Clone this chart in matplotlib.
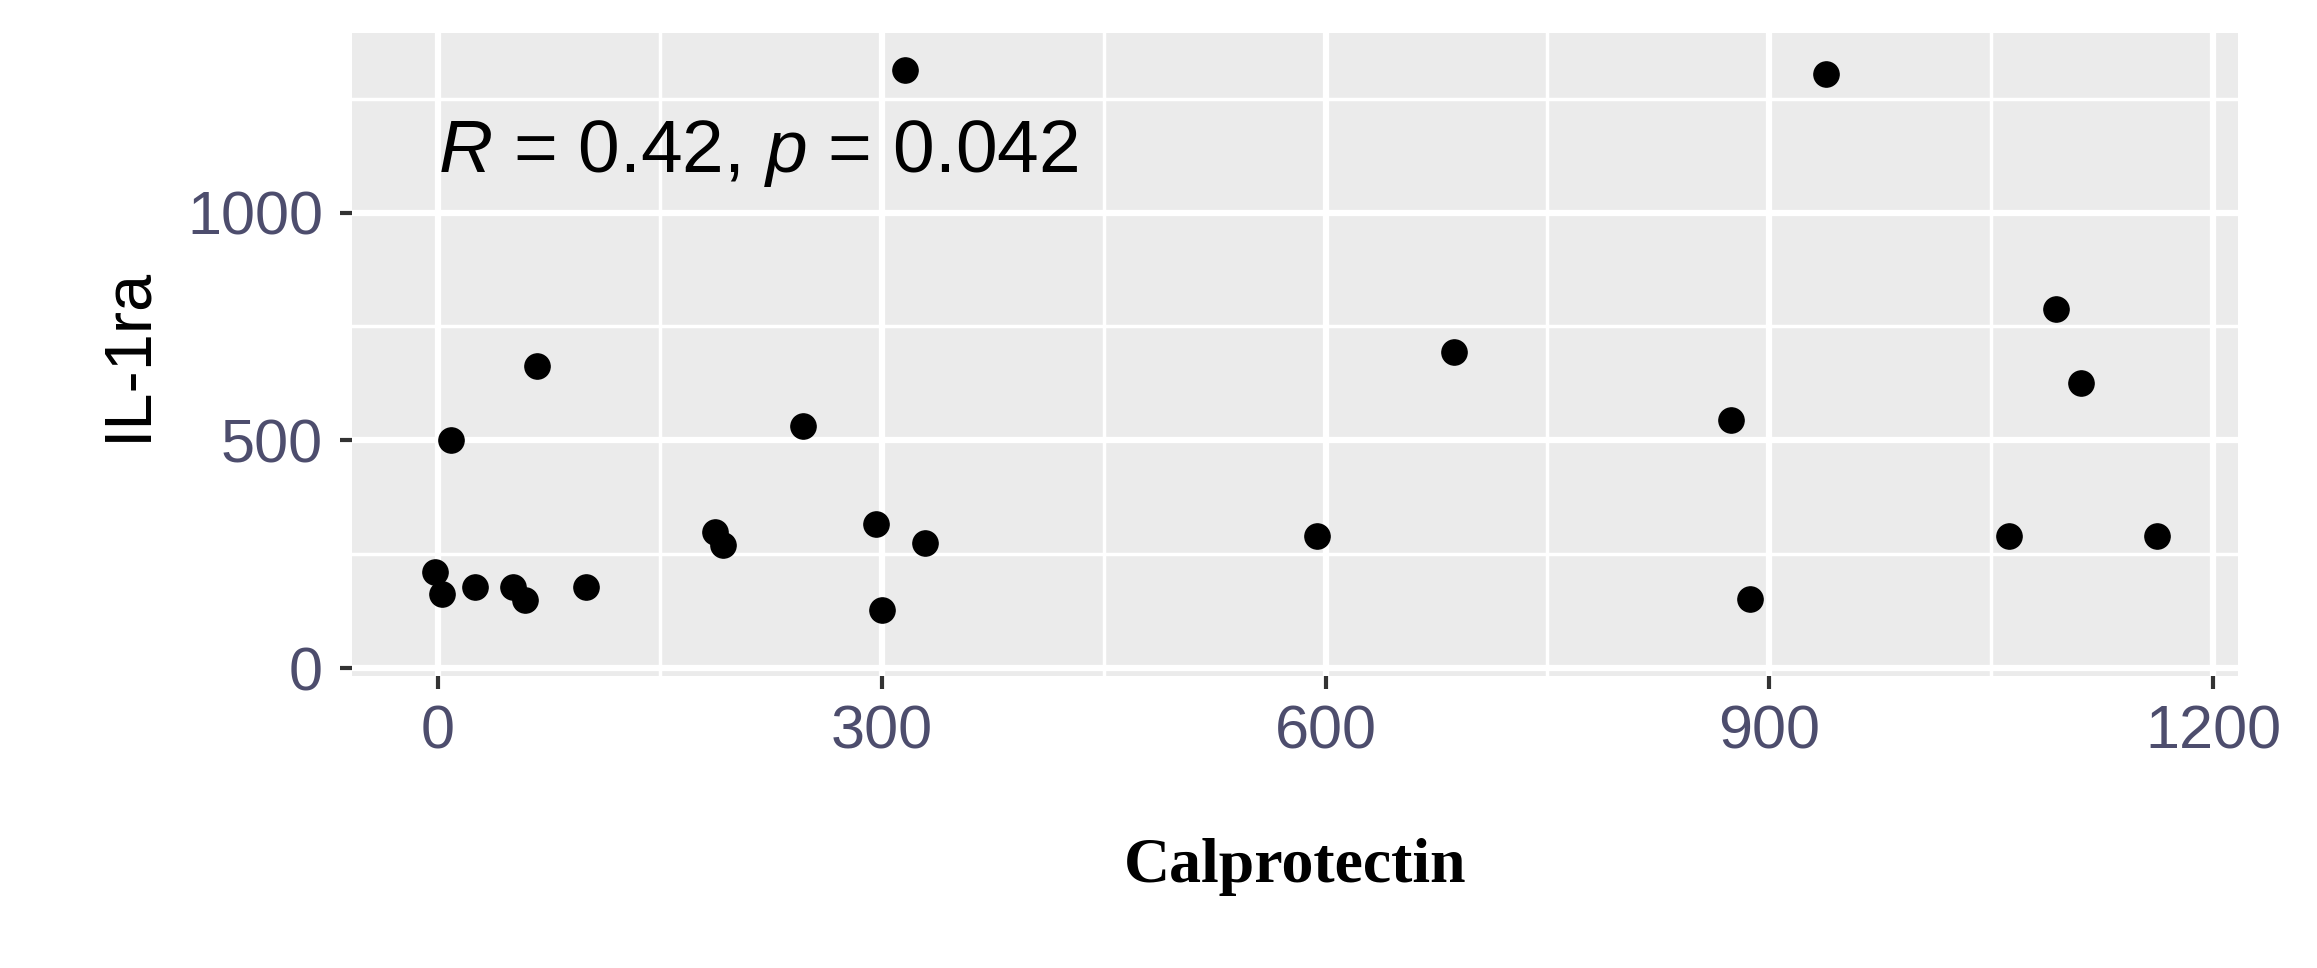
import matplotlib
matplotlib.use("Agg")
import matplotlib.pyplot as plt

calprotectin = [-2, 3, 9, 25, 51, 59, 67, 100, 187, 193, 247, 296, 300, 316, 329, 594, 687, 874, 887, 938, 1062, 1094, 1111, 1162]
il1ra = [212, 163, 502, 179, 179, 150, 664, 179, 300, 270, 531, 316, 127, 1313, 274, 290, 694, 544, 153, 1303, 290, 788, 625, 290]
xticks = [0, 300, 600, 900, 1200]
yticks = [0, 500, 1000]

plt.rcParams['font.family'] = ['Liberation Sans', 'DejaVu Sans']
plt.rcParams['mathtext.fontset'] = 'custom'
plt.rcParams['mathtext.it'] = 'Liberation Sans:italic'
plt.rcParams['mathtext.rm'] = 'Liberation Sans'

fig = plt.figure(figsize=(23.17, 9.68), dpi=100)
ax = fig.add_axes([0.152, 0.302, 0.814, 0.664])
ax.set_facecolor("#EBEBEB")
ax.set_xlim(-58, 1217)
ax.set_ylim(-16, 1394)
ax.set_xticks(xticks)
ax.set_yticks(yticks)
ax.set_xticks([150, 450, 750, 1050], minor=True)
ax.set_yticks([250, 750, 1250], minor=True)
ax.grid(True, which="major", color="white", linewidth=4.5)
ax.grid(True, which="minor", color="white", linewidth=2.5)
ax.set_axisbelow(True)
for s in ax.spines.values():
    s.set_visible(False)
ax.tick_params(which="major", length=9, width=3, color="#333333", labelsize=44, labelcolor="#4D4D6D", pad=12)
ax.tick_params(which="minor", length=0)
ax.scatter(calprotectin, il1ra, s=330, color="black", zorder=3)
ax.text(0, 1130, r"$R$ = 0.42, $p$ = 0.042", fontsize=54, va="center", ha="left")
ax.set_ylabel("IL-1ra", fontsize=48, labelpad=20)
ax.set_xlabel("Calprotectin", fontsize=46, fontfamily="Liberation Serif", fontweight="bold", labelpad=55)
fig.savefig("out.png", dpi=100)
